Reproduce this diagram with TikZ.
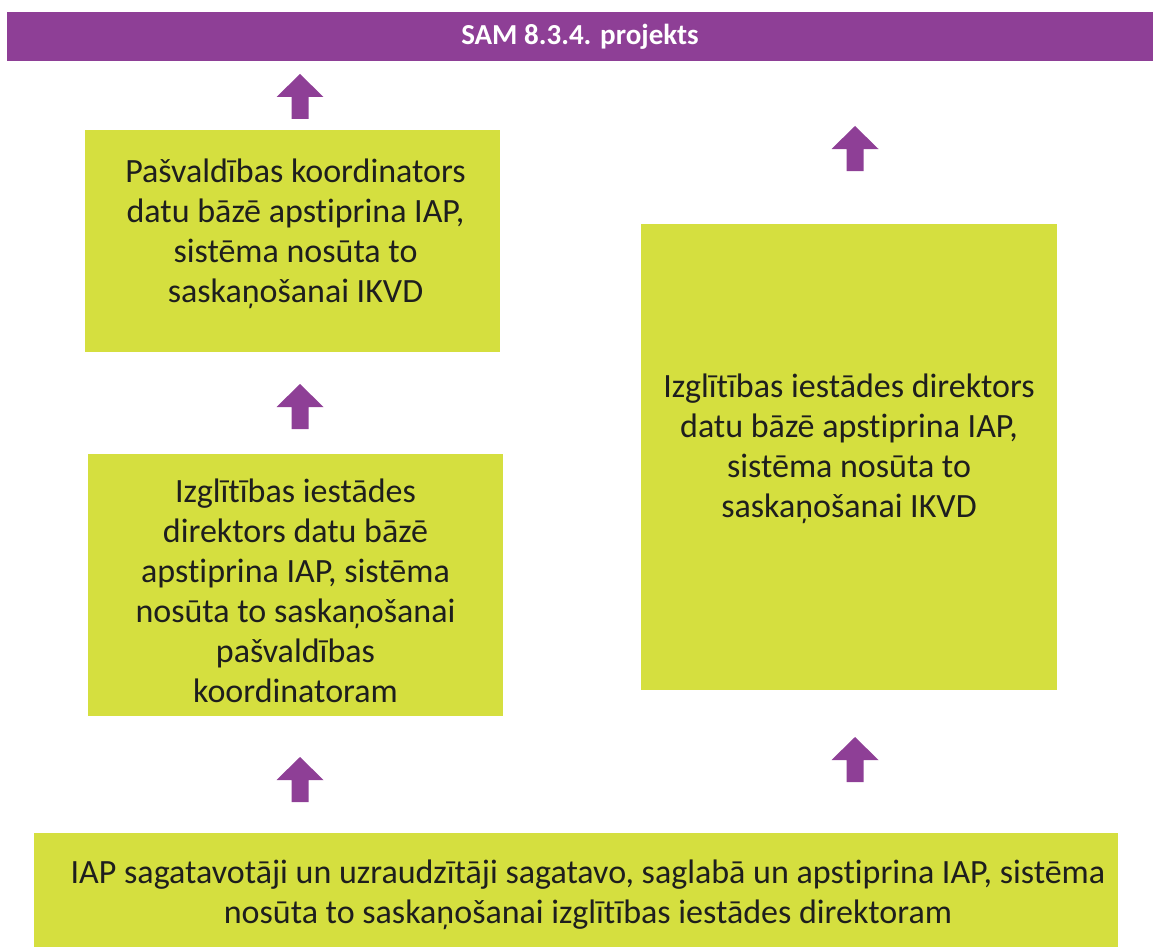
\documentclass[tikz,border=0pt]{standalone}
\usepackage{fontspec}
\setmainfont{Carlito}[Ligatures=CommonOff,Contextuals=AlternateOff]
\definecolor{samviolet}{HTML}{8E3F96}
\definecolor{samgreen}{HTML}{D5DF3F}
\definecolor{samtext}{HTML}{1E1E1E}
\begin{document}
\begin{tikzpicture}[x=1pt,y=-1pt,
	box/.style={fill=samgreen, inner sep=0pt},
	boxtxt/.style={text=samtext, align=center, inner sep=0pt, font=\fontsize{34}{40}\selectfont},
	uparr/.pic={\fill[samviolet] (0,0) -- (23.5,23) -- (8.5,23) -- (8.5,45) -- (-8.5,45) -- (-8.5,23) -- (-23.5,23) -- cycle;}]
			\useasboundingbox (0,0) rectangle (1153,947);
			\node[fill=samviolet, text=white, font=\fontsize{29}{32}\selectfont\bfseries, minimum width=1146, minimum height=49, inner sep=0pt] (sam) at (580,36.5) {SAM 8.3.4. projekts};
			\node[box, minimum width=415, minimum height=222] (pasv) at (292.5,241) {};
			\node[box, minimum width=415, minimum height=262] (dirpasv) at (295.5,585) {};
			\node[box, minimum width=416, minimum height=466] (dirikvd) at (849,457) {};
			\node[box, minimum width=1084, minimum height=114] (iap) at (576,890) {};
			
			\node[boxtxt] (pasvtxt) at ([shift={(3,-7)}]pasv.center) {Pašvaldības koordinators\\datu bāzē apstiprina IAP,\\sistēma nosūta to\\saskaņošanai IKVD};
			\node[boxtxt] (dirpasvtxt) at ([shift={(0,6)}]dirpasv.center) {Izglītības iestādes\\direktors datu bāzē\\apstiprina IAP, sistēma\\nosūta to saskaņošanai\\pašvaldības\\koordinatoram};
			\node[boxtxt] (dirikvdtxt) at ([shift={(0,-8)}]dirikvd.center) {Izglītības iestādes direktors\\datu bāzē apstiprina IAP,\\sistēma nosūta to\\saskaņošanai IKVD};
			\node[boxtxt] (iaptxt) at ([shift={(12,4.5)}]iap.center) {IAP sagatavotāji un uzraudzītāji sagatavo, saglabā un apstiprina IAP, sistēma\\nosūta to saskaņošanai izglītības iestādes direktoram};
			
			\pic (arra) at (300,74) {uparr};
			\pic (arrb) at (300,384) {uparr};
			\pic (arrc) at (300,757) {uparr};
			\pic (arrd) at (855,126) {uparr};
			\pic (arre) at (855,737) {uparr};
		\end{tikzpicture}
\end{document}
